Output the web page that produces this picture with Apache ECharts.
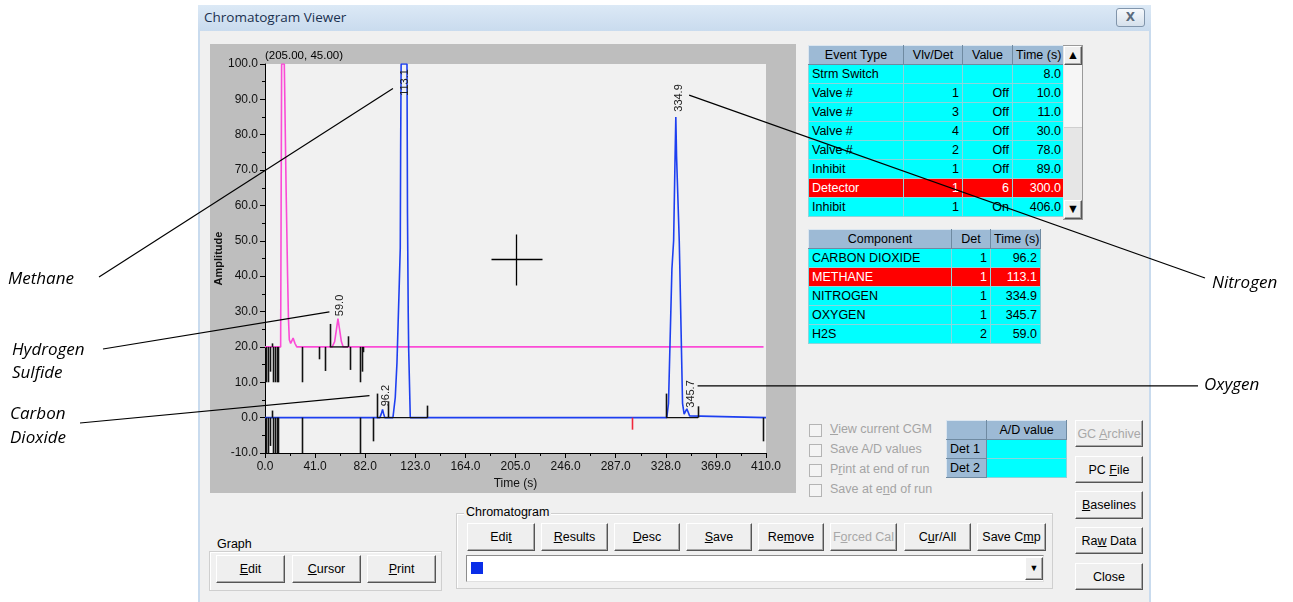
<!DOCTYPE html>
<html>
<head>
<meta charset="utf-8">
<title>Chromatogram Viewer</title>
<script src="https://cdn.jsdelivr.net/npm/echarts@6.0.0/dist/echarts.min.js"></script>
<style>
  body { margin:0; width:1293px; height:602px; overflow:hidden; background:#fff; position:relative;
         font-family:"Liberation Sans", Arial, sans-serif; font-size:12.5px; color:#000; }
  .a { position:absolute; box-sizing:border-box; }
  #win { left:198px; top:5px; width:953px; height:597px; background:#f0f0f0; border-left:2px solid #c9dbee; border-right:2px solid #c9dbee; }
  #bar { left:198px; top:5px; width:953px; height:26px; background:linear-gradient(#dce9f6,#c9dbee); }
  #title { left:204px; top:8px; font:13.5px "Open Sans", sans-serif; color:#1b3150; }
  #xbtn { left:1116px; top:8px; width:29px; height:19px; border:1px solid #8195ab; border-radius:3px;
          background:linear-gradient(#f6f9fc,#d5e0ec); color:#5b6b7d; font:bold 12px "DejaVu Sans", sans-serif;
          text-align:center; line-height:17px; }
  #frame { left:210px; top:44px; width:586px; height:449px; background:#bebebe; }
  #chart { position:absolute; left:0; top:0; width:1293px; height:602px; pointer-events:none; z-index:10; }
  table.g { position:absolute; border-collapse:collapse; table-layout:fixed; border:1px solid #3c4f5c; }
  table.g td { border:1px solid #8ad6dc; background:#00ffff; padding:0 3px; white-space:nowrap; overflow:hidden;
               height:18px; line-height:18px; }
  table.g td.h { background:#9dbad5; border:1px solid #6f8aa1; border-top-color:#dbe6f0; border-left-color:#dbe6f0; text-align:center; }
  table.g td.r { text-align:right; }
  table.g tr.sel td { background:#ff0000; color:#fff; }
  #scroll { left:1063px; top:45px; width:20px; height:175px; background:#e6e6e6; border:1px solid #9a9a9a; border-left:none; }
  #thumb { left:1064px; top:65px; width:18px; height:63px; background:#f6f6f6; border-bottom:1px solid #cfcfcf; }
  .arr { width:18px; height:19px; background:#f4f4f4; font-size:9px; text-align:center; line-height:19px; color:#000; }
  .chk { width:13px; height:13px; border:1px solid #b4b4b4; background:#f4f4f4; }
  .lbl { color:#a4a4a4; font-size:12.5px; white-space:nowrap; }
  .btn { display:flex; align-items:center; justify-content:center; white-space:nowrap;
         background:#efefef; border:1px solid; border-color:#fff #555 #555 #fff;
         box-shadow: inset -1px -1px #a8a8a8; font-size:12.5px; }
  .btn span { white-space:pre; }
  .btn.dis { color:#a8a8a8; }
  .grp { border:1px solid #cfcfcf; box-shadow: 1px 1px #fff inset; }
  .grpl { background:#f0f0f0; padding:0 2px; font-size:12.5px; }
  #combo { left:466px; top:555px; width:578px; height:27px; background:#fff; border:1px solid #8c8c8c; border-right-color:#e0e0e0; border-bottom-color:#e0e0e0; }
  #sq { left:471px; top:562px; width:12px; height:12px; background:#0a2ee8; }
  #drop { left:1025px; top:557px; width:18px; height:23px; font-size:9px; text-align:center; line-height:23px; }
</style>
</head>
<body>
<div class="a" id="win"></div>
<div class="a" id="bar"></div>
<div class="a" id="title">Chromatogram Viewer</div>
<div class="a" id="xbtn">X</div>
<div class="a" id="frame"></div>

<table class="g" id="events" style="left:808px; top:45px; width:256px;">
  <colgroup><col style="width:95px"><col style="width:59px"><col style="width:50px"><col style="width:52px"></colgroup>
</table>
<div class="a" id="scroll"></div>
<div class="a" id="thumb"></div>
<div class="a arr btn" style="left:1064px; top:46px;">&#9650;</div>
<div class="a arr btn" style="left:1064px; top:200px;">&#9660;</div>

<table class="g" id="comps" style="left:808px; top:229px; width:232px;">
  <colgroup><col style="width:143px"><col style="width:39px"><col style="width:50px"></colgroup>
</table>

<div id="checks"></div>

<table class="g" id="ad" style="left:946px; top:420px; width:120px;">
  <colgroup><col style="width:40px"><col style="width:80px"></colgroup>
  <tr><td class="h"></td><td class="h">A/D value</td></tr>
  <tr><td class="h" style="text-align:left">Det 1</td><td></td></tr>
  <tr><td class="h" style="text-align:left">Det 2</td><td></td></tr>
</table>

<div class="a grp" style="left:209px; top:551px; width:233px; height:40px;"></div>
<div class="a grpl" style="left:215px; top:537px;">Graph</div>
<div class="a grp" style="left:456px; top:513px; width:597px; height:76px;"></div>
<div class="a grpl" style="left:464px; top:505px;">Chromatogram</div>
<div class="a" id="combo"></div>
<div class="a" id="sq"></div>
<div class="a btn" id="drop">&#9660;</div>
<div id="buttons"></div>

<div id="chart"></div>

<script>
// detector 1 trace (blue), time in s / amplitude
const det1Time = [0, 76, 77, 79, 94, 95.3, 96.2, 97, 98, 104.7, 106.6, 108, 109.9, 110.7, 111, 111.4, 116.2, 116.6, 117.2, 117.6, 118.9,
                  328.8, 330.2, 333, 334.4, 335.6, 336.2, 336.8, 339, 339.5, 341.7, 343, 345.2, 346.5, 347.5, 349, 410];
const det1Amp  = [0, 0, -0.5, 0, 0, 1.2, 2.3, 1.2, 0, 0, 5.7, 15.5, 38, 48, 75, 100, 100, 58, 30, 19, 0,
                  0, 4, 42, 50, 74, 85, 74, 50, 42, 4, 1, 2.5, 2.5, 0.5, 0, 0];
// detector 2 trace (magenta)
const det2Time = [0, 12.8, 13.2, 13.6, 15.8, 16.3, 17.3, 18.5, 19.2, 19.9, 21, 23, 24.5, 26, 55, 57, 58.5, 59.7, 61, 62.5, 64, 408];
const det2Amp  = [20, 20, 60, 100, 100, 88, 64, 40, 28, 22, 21, 22.5, 21, 20, 20, 21.5, 25, 28, 25, 21.5, 20, 20];

// event / integration marks
const mark1Time = [1, 2.5, 4, 5.5, 6.5, 8, 10, 11, 30, 77.4, 88.3, 91.6, 101, 132.6, 328.5, 354.5, 407.8];
const mark1Tip  = [-10, -10, -8, 2, -10, -10, -10, -10, -10, -10, -6.7, 6.8, 4.6, 3.4, 6.8, 3.2, -6.7];
const mark2Time = [1, 2.5, 4, 5.5, 6.5, 8, 10, 11, 30, 44.3, 49.2, 52.8, 67.8, 69.7, 77.4, 79, 80.6];
const mark2Tip  = [10, 10, 13, 21, 10, 10, 10, 10, 10, 16.5, 13.2, 26.5, 23, 13.5, 10, 13, 18.5];
const detMarkTime = [300.7];
const detMarkTip = [-3.4];

// integration baselines
const baseStart = [53, 91.5, 328.5];
const baseEnd   = [68, 133, 354.5];
const baseLevel = [20, 0, 0];

// peak labels
const peakText = ['59.0', '96.2', '113.1', '334.9', '345.7'];
const peakTime = [61, 99, 114.8, 338.5, 348.5];
const peakAmp  = [28.7, 3.2, 91, 86.5, 2.8];

const cursorPos = [205, 45];

// tables
const eventTypes = ['Strm Switch', 'Valve #', 'Valve #', 'Valve #', 'Valve #', 'Inhibit', 'Detector', 'Inhibit'];
const eventVlvDet = ['', '1', '3', '4', '2', '1', '1', '1'];
const eventValues = ['', 'Off', 'Off', 'Off', 'Off', 'Off', '6', 'On'];
const eventTimes = ['8.0', '10.0', '11.0', '30.0', '78.0', '89.0', '300.0', '406.0'];
const eventSel = 6;
const compNames = ['CARBON DIOXIDE', 'METHANE', 'NITROGEN', 'OXYGEN', 'H2S'];
const compDet = ['1', '1', '1', '1', '2'];
const compTimes = ['96.2', '113.1', '334.9', '345.7', '59.0'];
const compSel = 1;

// build the tables
let h = '<tr><td class="h">Event Type</td><td class="h">Vlv/Det</td><td class="h">Value</td><td class="h">Time (s)</td></tr>';
eventTypes.forEach((t, i) => {
  h += '<tr' + (i == eventSel ? ' class="sel"' : '') + '><td>' + t + '</td><td class="r">' + eventVlvDet[i] +
       '</td><td class="r">' + eventValues[i] + '</td><td class="r">' + eventTimes[i] + '</td></tr>';
});
document.getElementById('events').insertAdjacentHTML('beforeend', h);
h = '<tr><td class="h">Component</td><td class="h">Det</td><td class="h">Time (s)</td></tr>';
compNames.forEach((c, i) => {
  h += '<tr' + (i == compSel ? ' class="sel"' : '') + '><td>' + c + '</td><td class="r">' + compDet[i] +
       '</td><td class="r">' + compTimes[i] + '</td></tr>';
});
document.getElementById('comps').insertAdjacentHTML('beforeend', h);

// check boxes
const checkLabels = ['<u>V</u>iew current CGM', 'Save A/D values', 'P<u>r</u>int at end of run', 'Save at e<u>n</u>d of run'];
const checkTop = [424, 444, 464, 484];
h = '';
checkLabels.forEach((l, i) => {
  h += '<div class="a chk" style="left:809px; top:' + checkTop[i] + 'px"></div>' +
       '<div class="a lbl" style="left:830px; top:' + (checkTop[i] - 2) + 'px">' + l + '</div>';
});
document.getElementById('checks').innerHTML = h;

// buttons [label, left, top, width, height, disabled]
const buttons = [
  ['<u>E</u>dit', 216, 555, 69, 28], ['<u>C</u>ursor', 292, 555, 69, 28], ['<u>P</u>rint', 367, 555, 69, 28],
  ['Edi<u>t</u>', 467, 523, 68, 28], ['<u>R</u>esults', 541, 523, 67, 28], ['<u>D</u>esc', 614, 523, 66, 28],
  ['<u>S</u>ave', 686, 523, 66, 28], ['Re<u>m</u>ove', 758, 523, 66, 28], ['F<u>o</u>rced Cal', 830, 523, 67, 28, 1],
  ['C<u>u</u>r/All', 904, 523, 67, 28], ['Save C<u>m</u>p', 977, 523, 69, 28],
  ['GC <u>A</u>rchive', 1075, 420, 68, 27, 1], ['PC <u>F</u>ile', 1075, 456, 68, 27], ['<u>B</u>aselines', 1075, 491, 68, 28],
  ['Ra<u>w</u> Data', 1075, 527, 68, 27], ['Close', 1075, 563, 68, 27]
];
h = '';
buttons.forEach(b => {
  h += '<div class="a btn' + (b[5] ? ' dis' : '') + '" style="left:' + b[1] + 'px; top:' + b[2] + 'px; width:' + b[3] +
       'px; height:' + b[4] + 'px"><span>' + b[0] + '</span></div>';
});
document.getElementById('buttons').innerHTML = h;

// chart
const chart = echarts.init(document.getElementById('chart'));

function sticks(times, base, tips, color) {
  return {
    type: 'custom',
    z: 5,
    silent: true,
    encode: { x: 0, y: [1, 2] },
    data: times.map((t, i) => [t, base, tips[i]]),
    renderItem: (params, api) => {
      const a = api.coord([api.value(0), api.value(1)]);
      const b = api.coord([api.value(0), api.value(2)]);
      const x = Math.round(a[0]) + 0.5;
      return { type: 'line', shape: { x1: x, y1: a[1], x2: x, y2: b[1] }, style: { stroke: color, lineWidth: 1.6 } };
    }
  };
}

const axisFont = { color: '#111', fontSize: 12, fontFamily: 'Liberation Sans' };

chart.setOption({
  animation: false,
  backgroundColor: 'transparent',
  grid: { left: 265, top: 64, width: 501, height: 389, show: true, backgroundColor: '#f1f1f1', borderWidth: 0 },
  xAxis: {
    type: 'value', min: 0, max: 410, interval: 41,
    name: 'Time (s)', nameLocation: 'middle', nameGap: 25, nameTextStyle: axisFont,
    axisLine: { onZero: false, lineStyle: { color: '#000' } },
    axisTick: { length: 5, lineStyle: { color: '#000' } },
    minorTick: { show: true, splitNumber: 2, length: 3, lineStyle: { color: '#000' } },
    splitLine: { show: false },
    axisLabel: Object.assign({ margin: 8, formatter: v => v.toFixed(1) }, axisFont)
  },
  yAxis: {
    type: 'value', min: -10, max: 100, interval: 10,
    name: 'Amplitude', nameLocation: 'middle', nameGap: 36,
    nameTextStyle: { color: '#111', fontSize: 11, fontWeight: 'bold', fontFamily: 'Liberation Sans' },
    axisLine: { onZero: false, lineStyle: { color: '#000' } },
    axisTick: { length: 5, lineStyle: { color: '#000' } },
    minorTick: { show: true, splitNumber: 2, length: 3, lineStyle: { color: '#000' } },
    splitLine: { show: false },
    axisLabel: Object.assign({ margin: 7, formatter: v => v.toFixed(1) }, axisFont)
  },
  series: [
    {
      name: 'Det 2', type: 'line', z: 3, showSymbol: false,
      data: det2Time.map((t, i) => [t, det2Amp[i]]),
      lineStyle: { color: '#fb4bd6', width: 1.6 }
    },
    {
      name: 'Det 1', type: 'line', z: 3, showSymbol: false,
      data: det1Time.map((t, i) => [t, det1Amp[i]]),
      lineStyle: { color: '#1d3ff0', width: 1.6 }
    },
    {
      // integration baselines
      type: 'custom', z: 4, silent: true,
      encode: { x: [0, 1], y: 2 },
      data: baseStart.map((s, i) => [s, baseEnd[i], baseLevel[i]]),
      renderItem: (params, api) => {
        const a = api.coord([api.value(0), api.value(2)]);
        const b = api.coord([api.value(1), api.value(2)]);
        return { type: 'line', shape: { x1: a[0], y1: a[1], x2: b[0], y2: b[1] }, style: { stroke: '#111', lineWidth: 1.4 } };
      }
    },
    sticks(mark1Time, 0, mark1Tip, '#111'),
    sticks(mark2Time, 20, mark2Tip, '#111'),
    sticks(detMarkTime, 0, detMarkTip, '#f0283c'),
    {
      // peak labels
      type: 'custom', z: 6, silent: true,
      data: peakTime.map((t, i) => [t, peakAmp[i]]),
      renderItem: (params, api) => {
        const p = api.coord([api.value(0), api.value(1)]);
        return {
          type: 'text', x: p[0], y: p[1], rotation: Math.PI / 2,
          style: { text: peakText[params.dataIndex], fill: '#222', font: '11px "Liberation Sans"', align: 'left', verticalAlign: 'middle' }
        };
      }
    },
    {
      // cursor cross
      type: 'custom', z: 6, silent: true,
      data: [cursorPos],
      renderItem: (params, api) => {
        const p = api.coord([api.value(0), api.value(1)]);
        const x = Math.round(p[0]) + 0.5, y = Math.round(p[1]) + 0.5;
        return {
          type: 'group', children: [
            { type: 'line', shape: { x1: x - 25, y1: y, x2: x + 26, y2: y }, style: { stroke: '#000', lineWidth: 1.3 } },
            { type: 'line', shape: { x1: x, y1: y - 25, x2: x, y2: y + 26 }, style: { stroke: '#000', lineWidth: 1.3 } }
          ]
        };
      }
    }
  ]
});

// callouts: text position on the page, arrow end on the peak (data coords)
const calloutFont = 'italic 17px "Open Sans"';
const px = d => chart.convertToPixel({ gridIndex: 0 }, d);
const m = px([104.7, 93.1]);
const s = px([52.7, 29.9]);
const c = px([85.5, 6.2]);
const n = px([347.1, 91.2]);
const o = px([354, 9]);
const note = (text, x, y) => ({ type: 'text', x: x, y: y, z: 20, style: { text: text, font: calloutFont, fill: '#000', verticalAlign: 'middle' } });
const seg = (x1, y1, x2, y2) => ({ type: 'line', z: 20, shape: { x1: x1, y1: y1, x2: x2, y2: y2 }, style: { stroke: '#000', lineWidth: 1.2 } });

chart.setOption({
  graphic: [
    { type: 'text', x: 265, y: 56, z: 20, style: { text: '(205.00, 45.00)', font: '11.5px "Liberation Sans"', fill: '#000', verticalAlign: 'middle' } },
    note('Methane', 8, 279),
    note('Hydrogen', 12, 350),
    note('Sulfide', 12, 373),
    note('Carbon', 10, 414),
    note('Dioxide', 10, 438),
    note('Nitrogen', 1212, 283),
    note('Oxygen', 1204, 385),
    seg(99, 277, m[0], m[1]),
    seg(103, 349, s[0], s[1]),
    seg(80, 423, c[0], c[1]),
    seg(n[0], n[1], 1205, 278),
    seg(o[0], o[1], 1198, o[1])
  ]
});
</script>
</body>
</html>
